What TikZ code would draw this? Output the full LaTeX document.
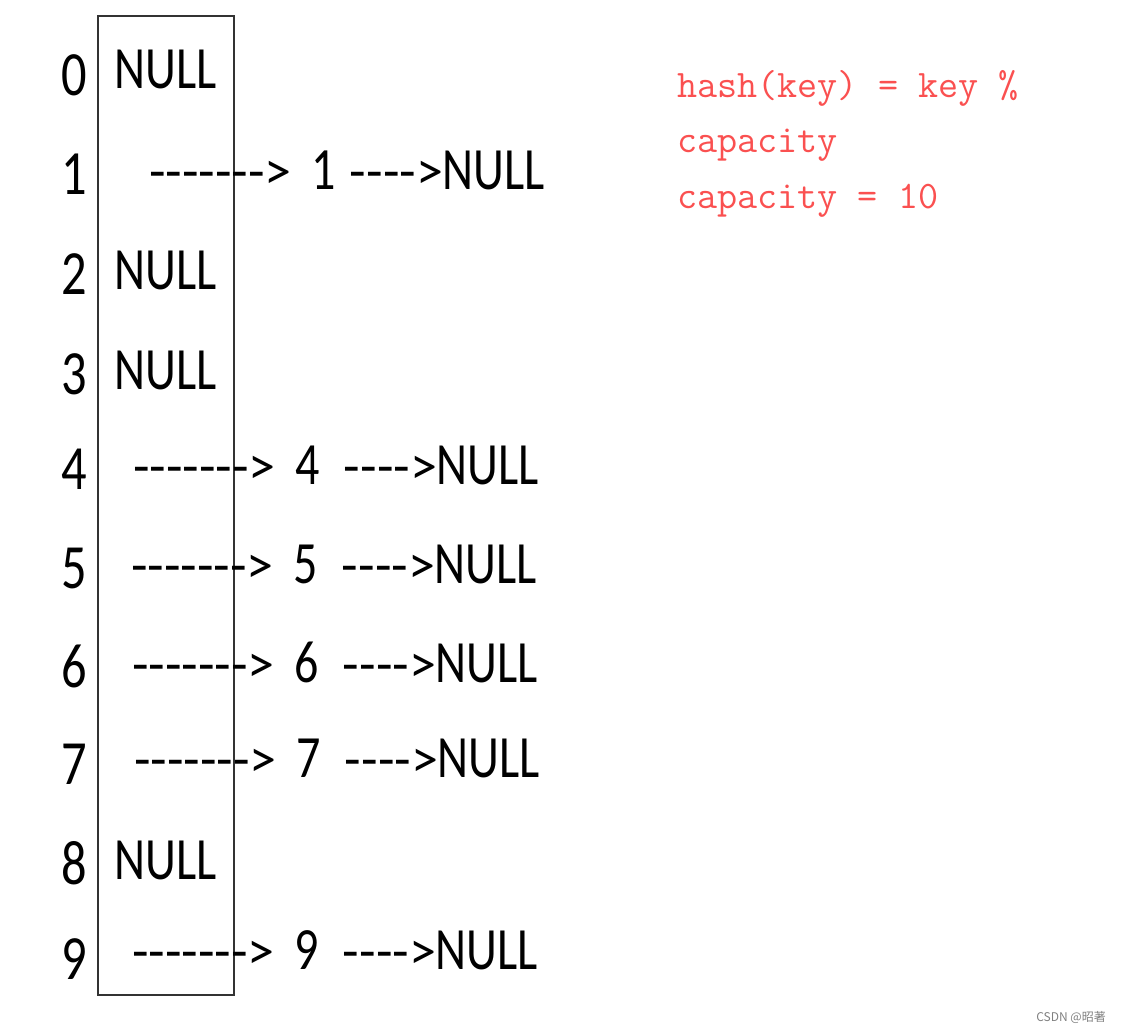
\documentclass[tikz,border=0pt]{standalone}
\usepackage{fontspec}
\newfontfamily\cellfont[FakeStretch=0.8]{Carlito}
\newfontfamily\dashfont{Carlito}
\newfontfamily\cjkfont{Noto Sans CJK SC}
\usetikzlibrary{positioning}
\definecolor{keyred}{RGB}{250,80,80}

\begin{document}
\begin{tikzpicture}[x=1pt,y=-1pt,
  idx/.style={inner sep=0,anchor=base,font=\cellfont\fontsize{63}{63}\selectfont},
  cell/.style={inner sep=0,anchor=base west,font=\cellfont\fontsize{60}{60}\selectfont},
  link/.style={inner sep=0,anchor=base west,font=\dashfont\fontsize{54}{54}\selectfont},
  note/.style={inner sep=0,anchor=base west,text=keyred,font=\ttfamily\fontsize{39}{39}\selectfont}]
\useasboundingbox (0,0) rectangle (1121,1031);

% the table of buckets
\draw[line width=1.3pt,black!80] (98,16) rectangle (234,995);

% bucket numbers
\foreach \i/\c in {0/73,1/172,2/272,3/372,4/467,5/566,6/665,7/762,8/862,9/957}
  \node[idx] (i\i) at (74,\c+22) {\i};

% empty buckets
\foreach \i/\c in {0/71,2/272,3/372,8/862}
  \node[cell] (n\i) at (114,\c+17) {NULL};

% buckets with one entry
\foreach \i/\c/\x/\g in {1/172/149/14,4/467/133/24,5/566/131/24,6/665/132/24,7/760/134/24,9/952/132/24}{
  \node[link] (d\i) at (\x,\c+17) {-{}-{}-{}-{}-{}-{}->};
  \node[cell,right=19pt of d\i.base east,anchor=base west] (v\i) {\i};
  \node[cell,right=\g pt of v\i.base east,anchor=base west] (t\i) {{\dashfont\fontsize{54}{54}\selectfont -{}-{}-{}->}NULL};
}

% hash rule
\node[note] (rule1) at (677,97) {hash(key) = key \%};
\node[note] (rule2) at (677,152) {capacity};
\node[note] (rule3) at (677,208) {capacity = 10};

\node[inner sep=0,anchor=base east,text=gray,font=\cjkfont\fontsize{12}{12}\selectfont] (mark) at (1106,1021) {CSDN @昭著};
\end{tikzpicture}
\end{document}
